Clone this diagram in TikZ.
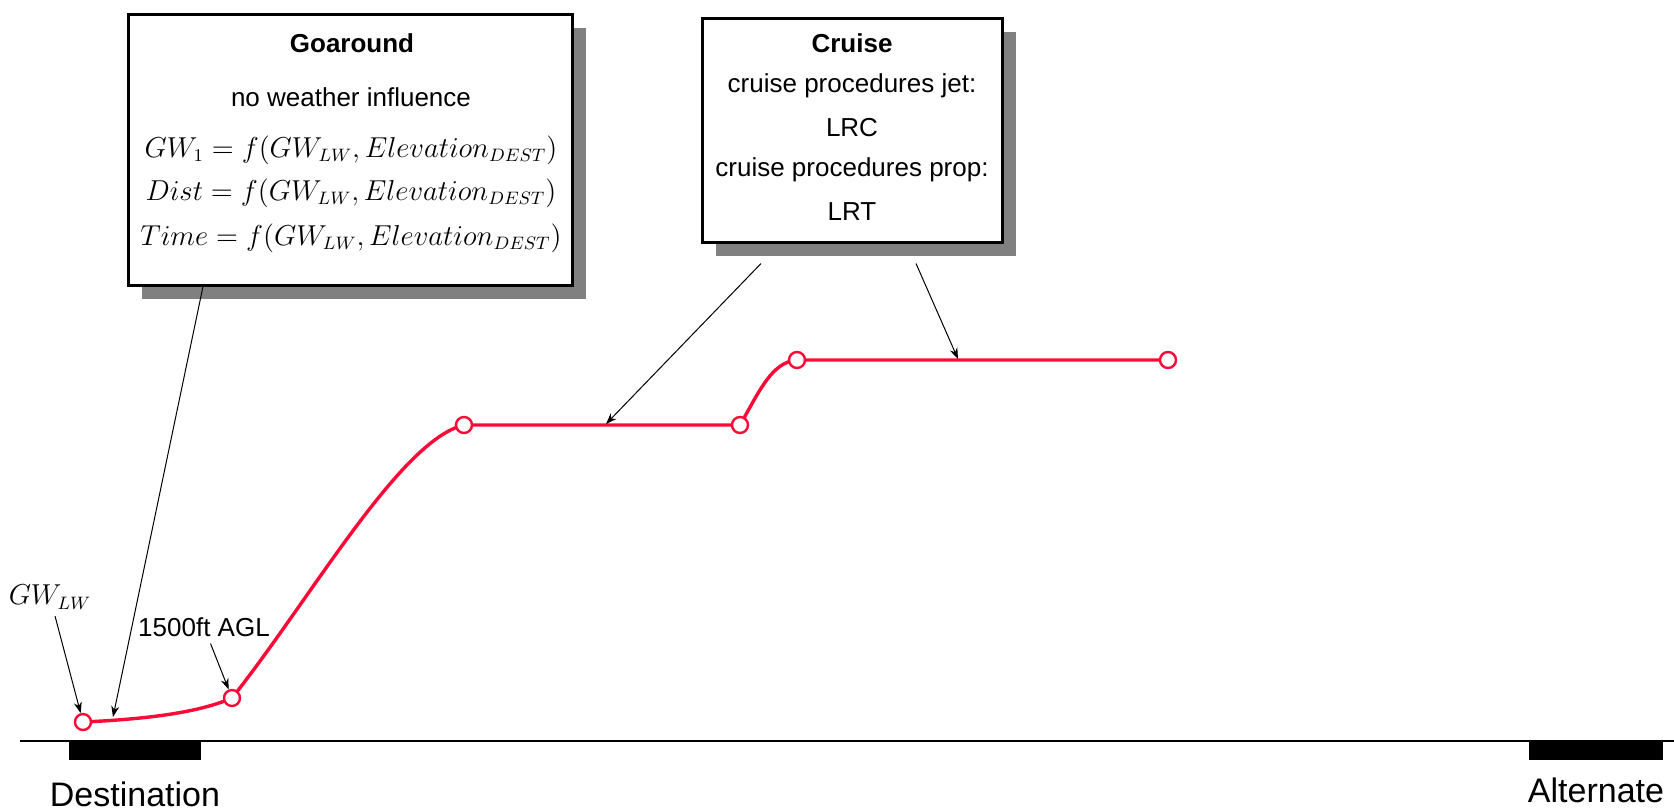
\documentclass[tikz,border=0pt]{standalone}
\usepackage{fontspec}
\setmainfont{Liberation Sans}
\usetikzlibrary{arrows.meta,shadows}

\definecolor{flight}{RGB}{250,10,55}

\tikzset{
  infobox/.style={draw, line width=1.5pt, fill=white, inner sep=0pt,
    drop shadow={shadow xshift=7pt, shadow yshift=-7pt, fill=black!50, opacity=1}},
  boxtext/.style={font=\fontsize{13}{15}\selectfont},
  mathtext/.style={font=\fontsize{13.5}{16}\selectfont},
  waypt/.style={circle, draw=flight, fill=white, line width=1.2pt, minimum size=8pt, inner sep=0pt},
  callout/.style={-{Stealth[length=5.5pt,width=4pt]}, line width=0.5pt},
  flightpath/.style={flight, line width=1.7pt},
  airport/.style={fill=black},
  placename/.style={font=\fontsize{17}{19}\selectfont, inner sep=0pt}
}

\begin{document}
\begin{tikzpicture}[x=0.5pt, y=-0.5pt]
\useasboundingbox (0,0) rectangle (1674,811);

% info boxes
\node[infobox, minimum width=222pt, minimum height=135.5pt] (goaround) at (350,149.5) {};
\node[infobox, minimum width=150pt, minimum height=112pt] (cruise) at (852,130) {};

% goaround text
\node[boxtext, font=\bfseries\fontsize{13}{15}\selectfont] (gaTitle) at (352,43) {Goaround};
\node[boxtext] (gaNote) at (351,97) {no weather influence};
\node[mathtext] (gaGw) at (351,150) {$GW_1 = f\bigl(GW_{LW}, Elevation_{DEST}\bigr)$};
\node[mathtext] (gaDist) at (351,193) {$Dist = f\bigl(GW_{LW}, Elevation_{DEST}\bigr)$};
\node[mathtext] (gaTime) at (351,238) {$Time = f\bigl(GW_{LW}, Elevation_{DEST}\bigr)$};

% cruise text
\node[boxtext, font=\bfseries\fontsize{13}{15}\selectfont] (crTitle) at (852,43) {Cruise};
\node[boxtext] (crJet) at (852,86) {cruise procedures jet:};
\node[boxtext] (crLrc) at (852,128) {LRC};
\node[boxtext] (crProp) at (852,170) {cruise procedures prop:};
\node[boxtext] (crLrt) at (852,212) {LRT};

% ground and airports
\coordinate (groundL) at (20,741);
\coordinate (groundR) at (1674,741);
\draw[line width=0.6pt] (groundL) -- (groundR);
\fill[airport] (69,741) rectangle (201,760);
\fill[airport] (1529,741) rectangle (1663,760);
\node[placename] (dest) at (135,794) {Destination};
\node[placename] (alt) at (1596,790) {Alternate};

% flight path
\coordinate (p0) at (83,722);
\coordinate (p1) at (232,698);
\coordinate (p2) at (464,425);
\coordinate (p3) at (740,425);
\coordinate (p4) at (797,360);
\coordinate (p5) at (1168,360);
\draw[flightpath] (p0) .. controls (150,719) and (200,712) .. (p1)
  .. controls (310,600) and (400,440) .. (p2) -- (p3)
  .. controls (760,390) and (772,362) .. (p4) -- (p5);

% waypoints
\node[waypt] (dot0) at (p0) {};
\node[waypt] (dot1) at (p1) {};
\node[waypt] (dot2) at (p2) {};
\node[waypt] (dot3) at (p3) {};
\node[waypt] (dot4) at (p4) {};
\node[waypt] (dot5) at (p5) {};

% labels
\node[mathtext] (gwlw) at (50,597) {$GW_{LW}$};
\node[boxtext] (agl) at (204,627) {1500ft AGL};

% callouts
\coordinate (gaHit) at (113,717);
\coordinate (crHit1) at (606,424);
\coordinate (crHit2) at (958,359);
\draw[callout] (gwlw) -- (dot0);
\draw[callout] (agl) -- (dot1);
\draw[callout] ([xshift=-73.5pt]goaround.south) -- (gaHit);
\draw[callout] ([xshift=-45.5pt,yshift=-10pt]cruise.south) -- (crHit1);
\draw[callout] ([xshift=32pt,yshift=-10pt]cruise.south) -- (crHit2);

\end{tikzpicture}
\end{document}
